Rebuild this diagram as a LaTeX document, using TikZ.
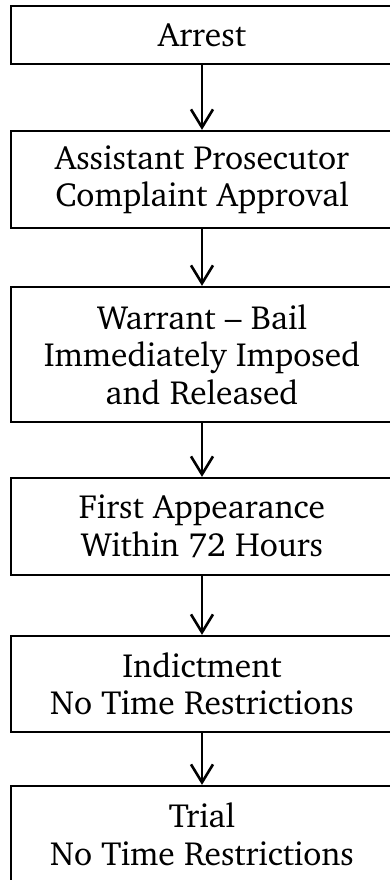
\documentclass[tikz,border=0pt]{standalone}
\usepackage[T1]{fontenc}
\usepackage{charter}
\usetikzlibrary{arrows.meta}

\begin{document}
\begin{tikzpicture}[x=1pt,y=-1pt,
  stage/.style={draw,line width=2.3pt,minimum width=382pt,inner sep=0pt,
    align=center,font=\fontsize{33.5}{37.5}\selectfont},
  flow/.style={line width=2.6pt,-{Straight Barb[length=18pt,width=22pt,line width=2.6pt]}}]
\clip (0,0) rectangle (390,880);
%\draw[help lines] (0,0) grid[step=50] (390,880);
\node[stage,minimum height=58pt] (arrest) at (202,35) {Arrest};
\node[stage,minimum height=97pt] (approval) at (202,179.5) {Assistant Prosecutor\\Complaint Approval};
\node[stage,minimum height=135pt] (warrant) at (202,354.5) {Warrant -- Bail\\Immediately Imposed\\and Released};
\node[stage,minimum height=97pt] (first) at (202,526.5) {First Appearance\\Within 72 Hours};
\node[stage,minimum height=96pt] (indict) at (202,684) {Indictment\\No Time Restrictions};
\node[stage,minimum height=97pt] (trial) at (202,834.5) {Trial\\No Time Restrictions};
\draw[flow] (arrest) -- (approval);
\draw[flow] (approval) -- (warrant);
\draw[flow] (warrant) -- (first);
\draw[flow] (first) -- (indict);
\draw[flow] (indict) -- (trial);
\end{tikzpicture}
\end{document}
